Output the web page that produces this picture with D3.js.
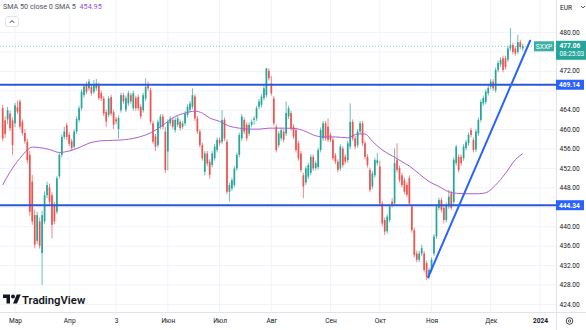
<!DOCTYPE html>
<html>
<head>
<meta charset="utf-8">
<script src="https://cdn.jsdelivr.net/npm/d3@7"></script>
<style>
  body { margin: 0; background: #ffffff; }
  svg { display: block; }
  text { font-family: Roboto, "Liberation Sans", Arial, sans-serif; }
</style>
</head>
<body>
<svg id="chart" width="586" height="330"></svg>
<script>
// STOXX Europe 600 (SXXP), daily candles, bar 0 = first visible session
const openP = [
  464.3, 461.8, 462.0, 463.2, 461.8, 461.2, 464.5, 465.7, 461.5, 459.2,
  457.4, 454.7, 449.2, 442.3, 437.0, 441.0, 434.5, 441.0, 446.4, 448.0,
  446.4, 444.4, 443.0, 450.3, 454.7, 458.4, 460.8, 458.8, 457.5, 456.4,
  459.5, 461.9, 464.3, 467.0, 469.1, 468.4, 468.7, 467.7, 468.4, 469.0,
  467.4, 466.3, 463.5, 462.9, 466.6, 463.5, 462.0, 460.0, 463.9, 467.0,
  464.0, 465.3, 467.0, 464.3, 466.4, 466.6, 464.6, 463.9, 466.3, 469.2,
  468.0, 461.2, 458.5, 456.7, 460.5, 462.6, 459.5, 455.4, 461.2, 461.9,
  459.8, 460.9, 461.5, 460.5, 461.2, 462.9, 464.0, 464.6, 466.7, 462.2,
  459.5, 456.7, 451.2, 455.0, 453.3, 452.6, 454.0, 455.7, 457.8, 457.4,
  461.9, 457.4, 447.1, 447.8, 448.5, 451.9, 454.7, 458.1, 461.9, 460.9,
  459.1, 460.9, 461.9, 462.2, 464.6, 465.0, 466.4, 467.0, 472.0, 469.4,
  466.3, 460.5, 456.7, 458.1, 459.5, 459.1, 462.6, 463.3, 460.5, 459.8,
  457.1, 455.0, 450.5, 449.0, 450.2, 451.0, 454.3, 452.0, 452.2, 455.7,
  458.1, 461.2, 460.5, 458.8, 457.8, 454.6, 453.3, 451.9, 456.0, 454.3,
  453.6, 456.4, 461.5, 458.1, 456.7, 459.5, 461.2, 457.1, 454.3, 451.6,
  448.2, 450.5, 453.0, 452.3, 444.7, 441.3, 439.0, 441.3, 445.1, 444.7,
  453.7, 452.0, 450.5, 449.5, 448.5, 449.9, 444.1, 439.2, 434.4, 433.1,
  434.4, 434.4, 432.4, 429.6, 431.0, 434.4, 437.9, 443.8, 445.4, 443.8,
  441.3, 444.1, 446.8, 445.0, 453.0, 454.3, 454.3, 454.0, 456.1, 457.1,
  459.8, 457.8, 455.8, 459.1, 461.9, 465.3, 465.6, 467.4, 468.7, 469.8,
  468.0, 472.2, 473.3, 474.6, 474.6, 474.3, 476.6, 477.3, 476.6, 475.9,
  477.9, 476.6
];
const highP = [
  465.0, 462.6, 464.6, 463.8, 462.4, 465.4, 465.9, 466.1, 462.0, 460.0,
  458.0, 455.5, 450.6, 443.4, 443.0, 441.8, 443.2, 447.2, 449.2, 448.8,
  447.0, 445.0, 450.4, 455.2, 458.9, 460.5, 461.3, 459.3, 458.0, 460.0,
  462.6, 464.8, 468.2, 469.3, 469.8, 470.3, 469.2, 470.1, 470.3, 469.6,
  467.9, 466.8, 464.0, 466.8, 467.1, 464.0, 462.5, 462.8, 467.5, 467.5,
  466.9, 467.9, 467.5, 467.9, 466.9, 467.1, 465.1, 467.5, 470.5, 469.8,
  468.5, 461.7, 459.0, 462.0, 463.1, 463.1, 460.5, 462.0, 462.7, 462.4,
  462.4, 462.7, 462.0, 461.7, 463.7, 465.1, 465.8, 468.4, 467.2, 462.7,
  460.0, 457.2, 455.5, 455.5, 453.8, 455.5, 456.9, 458.3, 458.3, 463.9,
  462.4, 457.9, 449.0, 450.0, 452.4, 455.2, 459.3, 463.1, 462.4, 461.4,
  461.4, 462.0, 462.7, 464.8, 466.2, 467.2, 468.9, 472.6, 472.5, 470.9,
  466.8, 461.0, 459.6, 460.3, 460.0, 465.7, 464.8, 463.8, 461.0, 460.3,
  457.6, 455.5, 451.0, 452.4, 453.1, 454.8, 454.8, 453.5, 456.2, 460.3,
  461.7, 461.7, 462.2, 459.3, 458.3, 455.1, 453.8, 456.9, 456.5, 454.8,
  457.6, 465.3, 462.0, 458.6, 460.0, 461.7, 461.7, 457.6, 454.8, 452.1,
  451.4, 454.1, 455.1, 453.5, 445.2, 441.8, 442.5, 444.6, 445.8, 456.0,
  457.1, 452.5, 451.0, 450.0, 449.0, 450.5, 444.6, 439.7, 435.0, 434.9,
  436.2, 434.9, 432.9, 431.5, 433.6, 438.4, 444.6, 445.9, 445.9, 444.3,
  444.9, 447.5, 447.3, 454.2, 456.8, 454.8, 454.8, 456.9, 457.8, 459.3,
  460.3, 458.3, 460.0, 462.4, 466.1, 466.9, 468.2, 469.0, 470.3, 470.3,
  472.7, 474.1, 474.8, 475.1, 475.1, 477.1, 480.8, 477.8, 477.1, 479.4,
  478.4, 477.6
];
const lowP = [
  457.5, 458.2, 461.0, 459.6, 454.7, 460.4, 463.1, 460.0, 458.7, 457.0,
  452.9, 442.2, 440.3, 435.5, 436.3, 435.4, 427.9, 440.4, 445.8, 444.5,
  437.5, 440.4, 442.5, 449.8, 454.2, 457.9, 457.8, 456.5, 455.5, 456.0,
  459.0, 461.4, 463.8, 466.5, 467.2, 467.9, 466.9, 467.2, 467.9, 466.0,
  465.8, 462.7, 460.5, 462.4, 462.7, 460.0, 461.0, 458.1, 463.4, 465.2,
  463.5, 464.8, 465.2, 463.8, 463.8, 463.8, 462.1, 463.4, 465.8, 467.9,
  461.0, 456.9, 455.5, 456.2, 460.0, 460.0, 451.0, 451.5, 460.7, 460.0,
  459.3, 460.4, 459.7, 460.0, 460.7, 462.4, 463.5, 464.1, 461.7, 459.0,
  456.2, 453.5, 450.5, 452.4, 449.8, 452.1, 453.5, 455.2, 456.6, 456.9,
  457.6, 446.6, 445.1, 447.3, 448.0, 451.4, 454.2, 457.6, 459.0, 457.6,
  458.6, 460.4, 460.9, 461.7, 464.1, 464.5, 465.9, 466.5, 470.0, 466.9,
  460.7, 455.2, 456.2, 457.6, 457.3, 458.6, 462.1, 459.7, 458.0, 455.2,
  453.5, 451.1, 445.8, 448.5, 449.7, 450.5, 451.4, 451.5, 451.7, 455.2,
  457.6, 457.6, 457.3, 457.3, 453.5, 452.8, 451.1, 451.4, 452.1, 452.8,
  453.1, 455.9, 457.6, 455.9, 456.2, 459.0, 456.6, 453.8, 452.1, 447.0,
  447.7, 450.0, 452.5, 444.2, 440.0, 438.2, 438.5, 440.8, 443.9, 444.2,
  451.1, 449.0, 448.0, 446.6, 446.0, 444.2, 438.7, 433.6, 432.6, 432.6,
  433.9, 430.5, 428.9, 429.1, 430.5, 433.9, 437.4, 443.3, 442.9, 440.6,
  440.8, 443.6, 443.3, 444.5, 452.5, 451.1, 452.5, 453.5, 455.6, 456.6,
  458.3, 455.2, 455.3, 458.6, 461.4, 464.8, 465.1, 466.9, 468.2, 467.9,
  467.5, 471.7, 472.8, 471.7, 472.3, 473.8, 476.1, 475.4, 475.1, 475.4,
  476.4, 476.1
];
const closeP = [
  458.1, 459.0, 463.9, 460.2, 456.7, 464.9, 463.6, 460.5, 459.2, 457.5,
  453.6, 443.0, 441.0, 436.2, 442.3, 436.0, 442.3, 446.4, 448.5, 445.1,
  440.3, 441.0, 449.9, 454.7, 458.4, 459.5, 458.4, 457.0, 456.1, 459.5,
  462.1, 464.3, 467.7, 468.8, 467.7, 469.8, 467.4, 469.1, 469.4, 466.4,
  466.3, 463.2, 461.6, 466.3, 463.2, 460.9, 461.6, 462.3, 467.0, 465.7,
  466.4, 467.4, 465.7, 467.4, 464.3, 464.3, 462.6, 467.0, 468.7, 468.4,
  461.5, 457.4, 456.4, 461.5, 462.6, 460.5, 451.6, 461.5, 462.2, 460.5,
  461.9, 462.2, 460.2, 461.2, 463.2, 464.6, 465.3, 467.0, 462.2, 459.5,
  456.7, 454.0, 455.0, 452.9, 450.6, 455.0, 456.4, 457.8, 457.1, 461.9,
  458.1, 447.1, 448.5, 449.5, 451.9, 454.7, 458.8, 462.6, 459.5, 458.1,
  460.9, 461.5, 462.2, 464.3, 465.7, 466.7, 468.4, 472.5, 470.5, 467.4,
  461.2, 455.7, 459.1, 459.8, 457.8, 463.3, 464.3, 460.2, 458.5, 455.7,
  454.0, 451.6, 448.2, 451.9, 452.6, 454.3, 451.9, 453.0, 455.7, 459.8,
  461.2, 458.1, 457.8, 457.8, 454.0, 453.3, 451.6, 456.4, 452.6, 453.3,
  457.1, 461.5, 458.1, 456.4, 459.5, 461.2, 457.1, 454.3, 452.6, 447.5,
  450.9, 453.6, 453.6, 444.7, 440.6, 438.9, 442.0, 444.1, 444.4, 453.0,
  451.6, 449.5, 448.5, 447.1, 446.5, 444.7, 439.2, 434.1, 433.1, 434.4,
  435.5, 431.0, 429.6, 431.0, 433.1, 437.9, 444.1, 445.4, 443.4, 441.3,
  444.4, 446.1, 443.8, 453.7, 456.4, 451.6, 453.0, 456.4, 457.3, 458.8,
  458.8, 455.7, 459.5, 461.9, 465.6, 466.4, 467.7, 468.5, 469.8, 468.4,
  472.2, 473.6, 474.3, 472.2, 472.8, 476.6, 477.3, 475.9, 475.6, 477.9,
  476.9, 477.06
];

// SMA 50 readings (bar index, value)
const smaBar = [0, 3, 7, 10, 12, 15, 19, 23, 27, 31, 35, 40, 45, 49, 53, 58, 62, 66, 70, 74,
  78, 81, 84, 88, 92, 96, 100, 104, 108, 114, 119, 123, 126, 130, 135, 140, 144, 147, 150, 154,
  158, 162, 165, 169, 173, 177, 181, 184, 188, 193, 196, 200, 204, 208, 211];
const smaVal = [448.5, 451.2, 454.0, 455.7, 456.3, 456.2, 455.8, 455.2, 455.5, 456.2, 457.1, 457.6, 457.7, 457.8, 458.1, 458.8, 459.8, 461.2, 462.6, 463.3,
  463.7, 463.3, 462.3, 461.6, 460.6, 460.2, 460.0, 460.0, 460.2, 460.2, 460.1, 459.5, 458.8, 458.4, 458.4, 458.2, 459.0, 459.0, 457.5, 455.7,
  454.5, 453.3, 452.4, 450.8, 449.2, 448.2, 447.1, 446.8, 446.7, 446.7, 446.9, 448.5, 450.9, 453.7, 454.95];

// time axis: bar index of each month label
const monthTickBar = [5, 27, 46, 67, 88, 109, 133, 153, 174, 198, 218];
const monthTickLabel = ["Мар", "Апр", "3", "Июн", "Июл", "Авг", "Сен", "Окт", "Ноя", "Дек", "2024"];

// price axis
const priceTicks = [424, 428, 432, 436, 440, 444, 448, 452, 456, 460, 464, 468, 472, 476, 480];
const levelPrices = [469.14, 444.34];
const trendBar = [172.6, 214.0];
const trendPrice = [429.5, 478.2];
const lastClose = 477.06;
const smaLast = 454.95;
const symbol = "SXXP";
const countdown = "08:25:03";

const W = 586, H = 330, plotW = 556, plotH = 312;
const UP = "#26a69a", DOWN = "#ef5350", LEVEL = "#2e57d6", TREND = "#2962ff", SMA = "#ab5fd0";
const FONT = "Roboto, 'Liberation Sans', Arial, sans-serif";

const svg = d3.select("#chart");
const x = d3.scaleLinear().domain([5, 218]).range([15, 540]);
const y = d3.scaleLinear().domain([424, 480]).range([304, 32]);

svg.append("rect").attr("width", W).attr("height", H).attr("fill", "#fff");

svg.append("defs").append("clipPath").attr("id", "plotClip")
  .append("rect").attr("width", plotW).attr("height", plotH);

// grid
const grid = svg.append("g").attr("clip-path", "url(#plotClip)");
grid.selectAll("line.h").data(priceTicks).join("line")
  .attr("x1", 0).attr("x2", plotW)
  .attr("y1", d => y(d) + 0.5).attr("y2", d => y(d) + 0.5)
  .attr("stroke", "#f0f3fa").attr("stroke-width", 1);
grid.selectAll("line.v").data(monthTickBar).join("line")
  .attr("x1", d => x(d)).attr("x2", d => x(d))
  .attr("y1", 0).attr("y2", plotH)
  .attr("stroke", "#f0f3fa").attr("stroke-width", 1);

const plot = svg.append("g").attr("clip-path", "url(#plotClip)");

// candles
const bars = d3.range(closeP.length);
const candle = plot.append("g");
candle.selectAll("line").data(bars).join("line")
  .attr("x1", i => x(i)).attr("x2", i => x(i))
  .attr("y1", i => y(highP[i])).attr("y2", i => y(lowP[i]))
  .attr("stroke", i => closeP[i] >= openP[i] ? UP : DOWN)
  .attr("stroke-width", 0.7);
candle.selectAll("rect").data(bars).join("rect")
  .attr("x", i => x(i) - 0.85).attr("width", 1.7)
  .attr("y", i => y(Math.max(openP[i], closeP[i])))
  .attr("height", i => Math.max(0.8, Math.abs(y(openP[i]) - y(closeP[i]))))
  .attr("fill", i => closeP[i] >= openP[i] ? UP : DOWN);

// SMA 50
plot.append("path")
  .datum(smaBar.map((b, k) => [b, smaVal[k]]))
  .attr("fill", "none").attr("stroke", SMA).attr("stroke-width", 1)
  .attr("d", d3.line().x(d => x(d[0])).y(d => y(d[1])).curve(d3.curveMonotoneX));

// last price line
plot.append("line")
  .attr("x1", 0).attr("x2", plotW)
  .attr("y1", y(lastClose)).attr("y2", y(lastClose))
  .attr("stroke", UP).attr("stroke-opacity", 0.6).attr("stroke-width", 1)
  .attr("stroke-dasharray", "1,2");

// horizontal levels
plot.selectAll("line.level").data(levelPrices).join("line")
  .attr("x1", 0).attr("x2", plotW)
  .attr("y1", d => y(d)).attr("y2", d => y(d))
  .attr("stroke", LEVEL).attr("stroke-width", 2);

// trend line
plot.append("line")
  .attr("x1", x(trendBar[0])).attr("y1", y(trendPrice[0]))
  .attr("x2", x(trendBar[1])).attr("y2", y(trendPrice[1]))
  .attr("stroke", TREND).attr("stroke-width", 2).attr("stroke-linecap", "round");

// symbol tag
const tag = svg.append("g").attr("transform", `translate(534,${y(lastClose) - 5})`);
tag.append("rect").attr("width", 20).attr("height", 10).attr("fill", UP).attr("opacity", 0.9);
tag.append("text").attr("x", 10).attr("y", 7.3).attr("text-anchor", "middle")
  .attr("font-size", 6.6).attr("fill", "#fff").text(symbol);

// axes borders
svg.append("line").attr("x1", plotW + 0.5).attr("x2", plotW + 0.5).attr("y1", 0).attr("y2", H)
  .attr("stroke", "#e0e3eb");
svg.append("line").attr("x1", 0).attr("x2", W).attr("y1", plotH + 0.5).attr("y2", plotH + 0.5)
  .attr("stroke", "#e0e3eb");

// price tags occupy these vertical spans on the axis; tick labels underneath are hidden
const tagSpans = levelPrices.map(p => [y(p) - 5, y(p) + 5])
  .concat([[y(lastClose) - 5.5, y(lastClose) + 13.5]]);
const hiddenTick = t => tagSpans.some(([a, b]) => y(t) > a - 3.5 && y(t) < b + 3.5);

// price axis
const yAxis = svg.append("g").attr("transform", `translate(${plotW},0)`)
  .call(d3.axisRight(y).tickValues(priceTicks.filter(t => !hiddenTick(t)))
    .tickSize(0).tickPadding(3.5).tickFormat(d3.format(".2f")));
yAxis.select(".domain").remove();
yAxis.selectAll("text").attr("font-size", 6.6).attr("fill", "#131722").attr("font-family", FONT);

// time axis
const xAxis = svg.append("g").attr("transform", `translate(0,${plotH})`)
  .call(d3.axisBottom(x).tickValues(monthTickBar).tickSize(0).tickPadding(6.5)
    .tickFormat((d, k) => monthTickLabel[k]));
xAxis.select(".domain").remove();
xAxis.selectAll("text").attr("font-size", 6.6).attr("fill", "#131722").attr("font-family", FONT)
  .attr("font-weight", (d, k) => monthTickLabel[k] === "2024" ? 700 : 400);

// level tags on the price axis
const lvl = svg.selectAll("g.lvl").data(levelPrices).join("g")
  .attr("transform", d => `translate(${plotW},${y(d) - 5})`);
lvl.append("rect").attr("width", 28).attr("height", 10).attr("fill", TREND);
lvl.append("text").attr("x", 3).attr("y", 7.4).attr("font-size", 6.6).attr("font-weight", 700)
  .attr("fill", "#fff").text(d => d3.format(".2f")(d));

// last price tag
const lp = svg.append("g").attr("transform", `translate(${plotW},${y(lastClose) - 5.5})`);
lp.append("rect").attr("width", 32).attr("height", 19).attr("fill", UP);
lp.append("text").attr("x", 3.5).attr("y", 7.4).attr("font-size", 6.6).attr("font-weight", 700)
  .attr("fill", "#fff").text(d3.format(".2f")(lastClose));
lp.append("text").attr("x", 3.5).attr("y", 15).attr("font-size", 6.4)
  .attr("fill", "#fff").text(countdown);

// currency selector
svg.append("text").attr("x", 560).attr("y", 9.5).attr("font-size", 6.6).attr("fill", "#131722").text("EUR");
svg.append("path").attr("d", "M581,6 L583,8 L585,6").attr("fill", "none")
  .attr("stroke", "#131722").attr("stroke-width", 0.7);

// settings icon
svg.append("circle").attr("cx", 569.5).attr("cy", 321).attr("r", 3.3)
  .attr("fill", "none").attr("stroke", "#131722").attr("stroke-width", 0.8);
svg.append("circle").attr("cx", 569.5).attr("cy", 321).attr("r", 1.2)
  .attr("fill", "none").attr("stroke", "#131722").attr("stroke-width", 0.7);

// legend
const legend = svg.append("text").attr("x", 3).attr("y", 9).attr("font-size", 7.2);
legend.append("tspan").attr("fill", "#50535e").text("SMA 50 close 0 SMA 5 ");
legend.append("tspan").attr("fill", "#9c4dcc").attr("dx", 2).text(d3.format(".2f")(smaLast));

svg.append("rect").attr("x", 5.5).attr("y", 16.5).attr("width", 13).attr("height", 10).attr("rx", 2)
  .attr("fill", "#fff").attr("stroke", "#e0e3eb");
svg.append("path").attr("d", "M9.8,22.8 L12,20.6 L14.2,22.8").attr("fill", "none")
  .attr("stroke", "#131722").attr("stroke-width", 0.9);

// watermark logo
const logo = svg.append("g").attr("transform", "translate(3,292.5) scale(0.5)");
logo.append("path").attr("d", "M14 22H7V11H0V4h14v18zM28 22h-8l7.5-18h8L28 22z").attr("fill", "#131722");
logo.append("circle").attr("cx", 20).attr("cy", 8).attr("r", 4).attr("fill", "#131722");
svg.append("text").attr("x", 22).attr("y", 304).attr("font-size", 11.3).attr("font-weight", 600)
  .attr("fill", "#131722").attr("font-family", "Inter, 'Open Sans', sans-serif").text("TradingView");
</script>
</body>
</html>
